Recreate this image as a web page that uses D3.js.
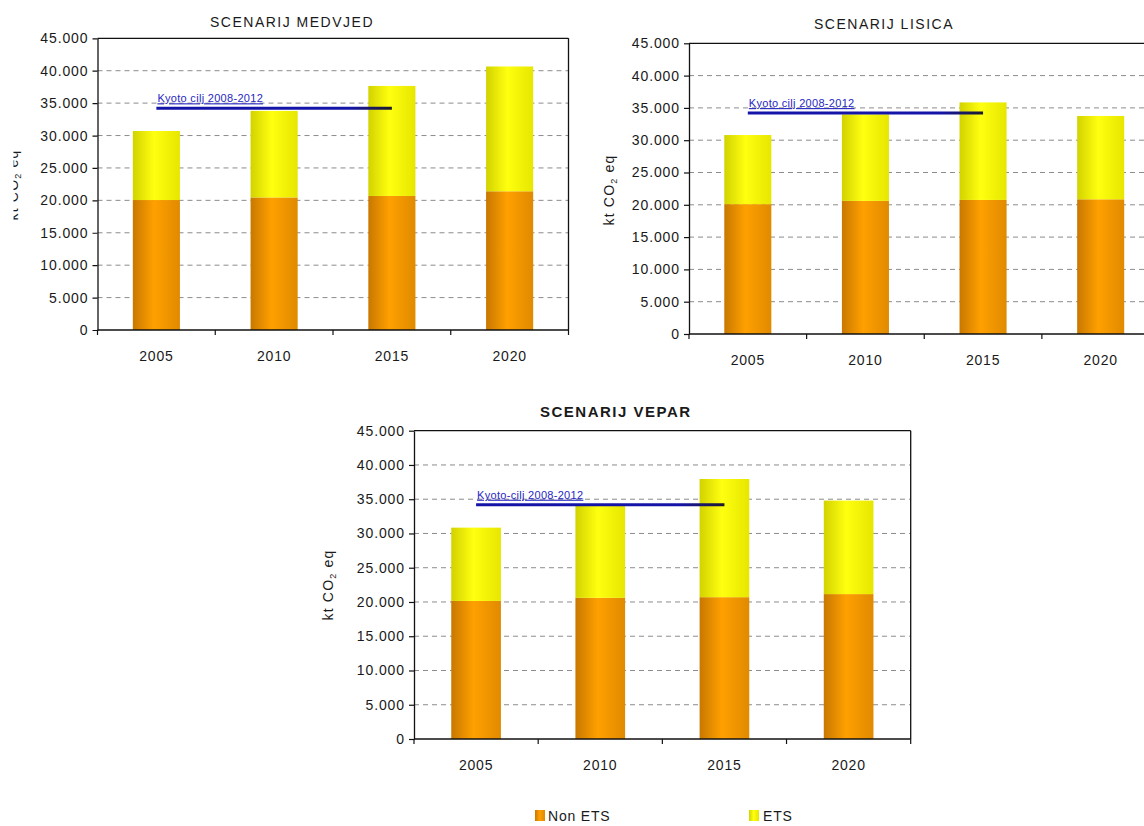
<!DOCTYPE html>
<html>
<head>
<meta charset="utf-8">
<script src="https://cdn.jsdelivr.net/npm/d3@7"></script>
<style>
  html, body { margin: 0; padding: 0; background: #fff; }
  svg { display: block; font-family: "Liberation Sans", Arial, sans-serif; }
</style>
</head>
<body>
<svg id="chart" width="1144" height="826"></svg>
<script>
// ---------------- data ----------------
const years = ["2005", "2010", "2015", "2020"];
const yTickValues = [0, 5000, 10000, 15000, 20000, 25000, 30000, 35000, 40000, 45000];
const seriesNames = ["Non ETS", "ETS"];

const medvjedNonETS = [20050, 20450, 20680, 21400];
const medvjedETS    = [10650, 13350, 16970, 19250];

const lisicaNonETS  = [20100, 20600, 20750, 20850];
const lisicaETS     = [10700, 13400, 15100, 12900];

const veparNonETS   = [20150, 20600, 20700, 21150];
const veparETS      = [10700, 13450, 17250, 13650];

const kyotoTarget = 34200;           // kt CO2 eq, drawn from 2005 to 2015
const kyotoYears = ["2005", "2015"];

// ---------------- layout ----------------
const charts = [
  { title: "SCENARIJ MEDVJED", bold: false, nonETS: medvjedNonETS, ets: medvjedETS,
    kyotoLabel: "Kyoto cilj 2008-2012",
    x0: 97.5, x1: 568.5, yTop: 38.3, yBot: 330,
    titleX: 210, titleY: 27, ylabX: 18, ylabY: 185, clipX: 13.5 },
  { title: "SCENARIJ LISICA", bold: false, nonETS: lisicaNonETS, ets: lisicaETS,
    kyotoLabel: "Kyoto cilj 2008-2012",
    x0: 689, x1: 1159.5, yTop: 43.3, yBot: 334,
    titleX: 814, titleY: 29, ylabX: 614, ylabY: 190, clipX: null },
  { title: "SCENARIJ VEPAR", bold: true, nonETS: veparNonETS, ets: veparETS,
    kyotoLabel: "Kyoto-cilj 2008-2012",
    x0: 414, x1: 910.7, yTop: 430.7, yBot: 739,
    titleX: 540, titleY: 417, ylabX: 333, ylabY: 585, clipX: null }
];

const fmt = d3.formatLocale({ decimal: ",", thousands: ".", grouping: [3], currency: ["", ""] }).format(",d");
const svg = d3.select("#chart");
const defs = svg.append("defs");

function hGrad(id, edge, mid, edge2) {
  const g = defs.append("linearGradient").attr("id", id)
    .attr("x1", "0%").attr("x2", "100%").attr("y1", "0%").attr("y2", "0%");
  g.append("stop").attr("offset", "0%").attr("stop-color", edge);
  g.append("stop").attr("offset", "45%").attr("stop-color", mid);
  g.append("stop").attr("offset", "100%").attr("stop-color", edge2);
}
hGrad("gOrange", "#c87800", "#ffa000", "#e08a00");
hGrad("gYellow", "#d2d200", "#ffff10", "#e6e600");
const fills = ["url(#gOrange)", "url(#gYellow)"];

charts.forEach((c, ci) => {
  const g = svg.append("g");
  if (c.clipX !== null) {
    defs.append("clipPath").attr("id", "clip" + ci)
      .append("rect").attr("x", c.clipX).attr("y", 0).attr("width", 1144).attr("height", 826);
    g.attr("clip-path", `url(#clip${ci})`);
  }

  const x = d3.scaleBand().domain(years).range([c.x0, c.x1]).paddingInner(0.6).paddingOuter(0.3);
  const y = d3.scaleLinear().domain([0, 45000]).range([c.yBot, c.yTop]);
  const step = x.step();

  // gridlines
  g.append("g").selectAll("line")
    .data(yTickValues.filter(v => v > 0 && v < 45000))
    .join("line")
    .attr("x1", c.x0).attr("x2", c.x1)
    .attr("y1", d => y(d)).attr("y2", d => y(d))
    .attr("stroke", "#8c8c8c").attr("stroke-width", 1).attr("stroke-dasharray", "5,4");

  // stacked bars
  const rows = years.map((yr, i) => ({ year: yr, "Non ETS": c.nonETS[i], "ETS": c.ets[i] }));
  const stacked = d3.stack().keys(seriesNames)(rows);
  g.append("g").selectAll("g").data(stacked).join("g")
    .attr("fill", (d, i) => fills[i])
    .selectAll("rect").data(d => d).join("rect")
    .attr("x", d => x(d.data.year))
    .attr("width", x.bandwidth())
    .attr("y", d => y(d[1]))
    .attr("height", d => y(d[0]) - y(d[1]));

  // frame: top and right borders
  g.append("line").attr("x1", c.x0).attr("x2", c.x1).attr("y1", y(45000)).attr("y2", y(45000))
    .attr("stroke", "#111").attr("stroke-width", 1.3);
  g.append("line").attr("x1", c.x1).attr("x2", c.x1).attr("y1", y(45000)).attr("y2", y(0))
    .attr("stroke", "#111").attr("stroke-width", 1.3);

  // y axis
  const ya = g.append("g").attr("transform", `translate(${c.x0},0)`)
    .call(d3.axisLeft(y).tickValues(yTickValues).tickFormat(fmt).tickSize(5).tickSizeOuter(0).tickPadding(4));
  ya.select(".domain").attr("stroke", "#111").attr("stroke-width", 1.3);
  ya.selectAll(".tick line").attr("stroke", "#111").attr("stroke-width", 1.2);
  ya.selectAll("text").attr("font-size", 14).attr("fill", "#1a1a1a")
    .attr("font-family", "'Liberation Sans', Arial, sans-serif").style("letter-spacing", "0.9px");

  // x axis (labels at centers, tick marks at category boundaries)
  const xa = g.append("g").attr("transform", `translate(0,${c.yBot})`)
    .call(d3.axisBottom(x).tickSize(0).tickSizeOuter(0).tickPadding(21));
  xa.select(".domain").remove();
  xa.selectAll("text").attr("font-size", 14).attr("fill", "#1a1a1a")
    .attr("font-family", "'Liberation Sans', Arial, sans-serif").style("letter-spacing", "0.8px");
  const bounds = years.map(yr => x(yr) - step * 0.3).concat([c.x1]);
  g.append("line").attr("x1", c.x0).attr("x2", c.x1).attr("y1", c.yBot).attr("y2", c.yBot)
    .attr("stroke", "#111").attr("stroke-width", 1.3);
  g.append("g").selectAll("line").data(bounds).join("line")
    .attr("x1", d => d).attr("x2", d => d).attr("y1", c.yBot).attr("y2", c.yBot + 5)
    .attr("stroke", "#111").attr("stroke-width", 1.2);

  // Kyoto line
  const kx1 = x(kyotoYears[0]) + x.bandwidth() / 2;
  const kx2 = x(kyotoYears[1]) + x.bandwidth() / 2;
  const ky = y(kyotoTarget);
  const kg = defs.append("linearGradient").attr("id", "kyo" + ci).attr("gradientUnits", "userSpaceOnUse")
    .attr("x1", kx1).attr("x2", kx2).attr("y1", 0).attr("y2", 0);
  kg.append("stop").attr("offset", "0%").attr("stop-color", "#1414a8");
  kg.append("stop").attr("offset", "82%").attr("stop-color", "#1414a8");
  kg.append("stop").attr("offset", "100%").attr("stop-color", "#1b1b2a");
  g.append("line").attr("x1", kx1).attr("x2", kx2).attr("y1", ky).attr("y2", ky)
    .attr("stroke", `url(#kyo${ci})`).attr("stroke-width", 3);
  g.append("text").attr("x", kx1 + 1).attr("y", ky - 6)
    .attr("font-size", 11).attr("fill", "#2626c4").style("text-decoration", "underline")
    .style("letter-spacing", "0.3px")
    .text(c.kyotoLabel);

  // title
  g.append("text").attr("x", c.titleX).attr("y", c.titleY)
    .attr("font-size", c.bold ? 15 : 14).attr("font-weight", c.bold ? "bold" : "normal")
    .attr("fill", "#1a1a1a").style("letter-spacing", "1.5px")
    .text(c.title);

  // y label
  const yl = g.append("text")
    .attr("transform", `translate(${c.ylabX},${c.ylabY}) rotate(-90)`)
    .attr("text-anchor", "middle").attr("font-size", 14).attr("fill", "#1a1a1a")
    .style("letter-spacing", "1.2px");
  yl.append("tspan").text("kt CO");
  yl.append("tspan").attr("font-size", 9).attr("dy", 3).text("2");
  yl.append("tspan").attr("dy", -3).text(" eq");
});

// legend
const legendPos = [{ x: 535, tx: 548 }, { x: 749, tx: 763 }];
const lg = svg.append("g");
seriesNames.forEach((name, i) => {
  lg.append("rect").attr("x", legendPos[i].x).attr("y", 810).attr("width", 10).attr("height", 11)
    .attr("fill", fills[i]);
  lg.append("text").attr("x", legendPos[i].tx).attr("y", 821)
    .attr("font-size", 14).attr("fill", "#1a1a1a").style("letter-spacing", "0.8px")
    .text(name);
});
</script>
</body>
</html>
